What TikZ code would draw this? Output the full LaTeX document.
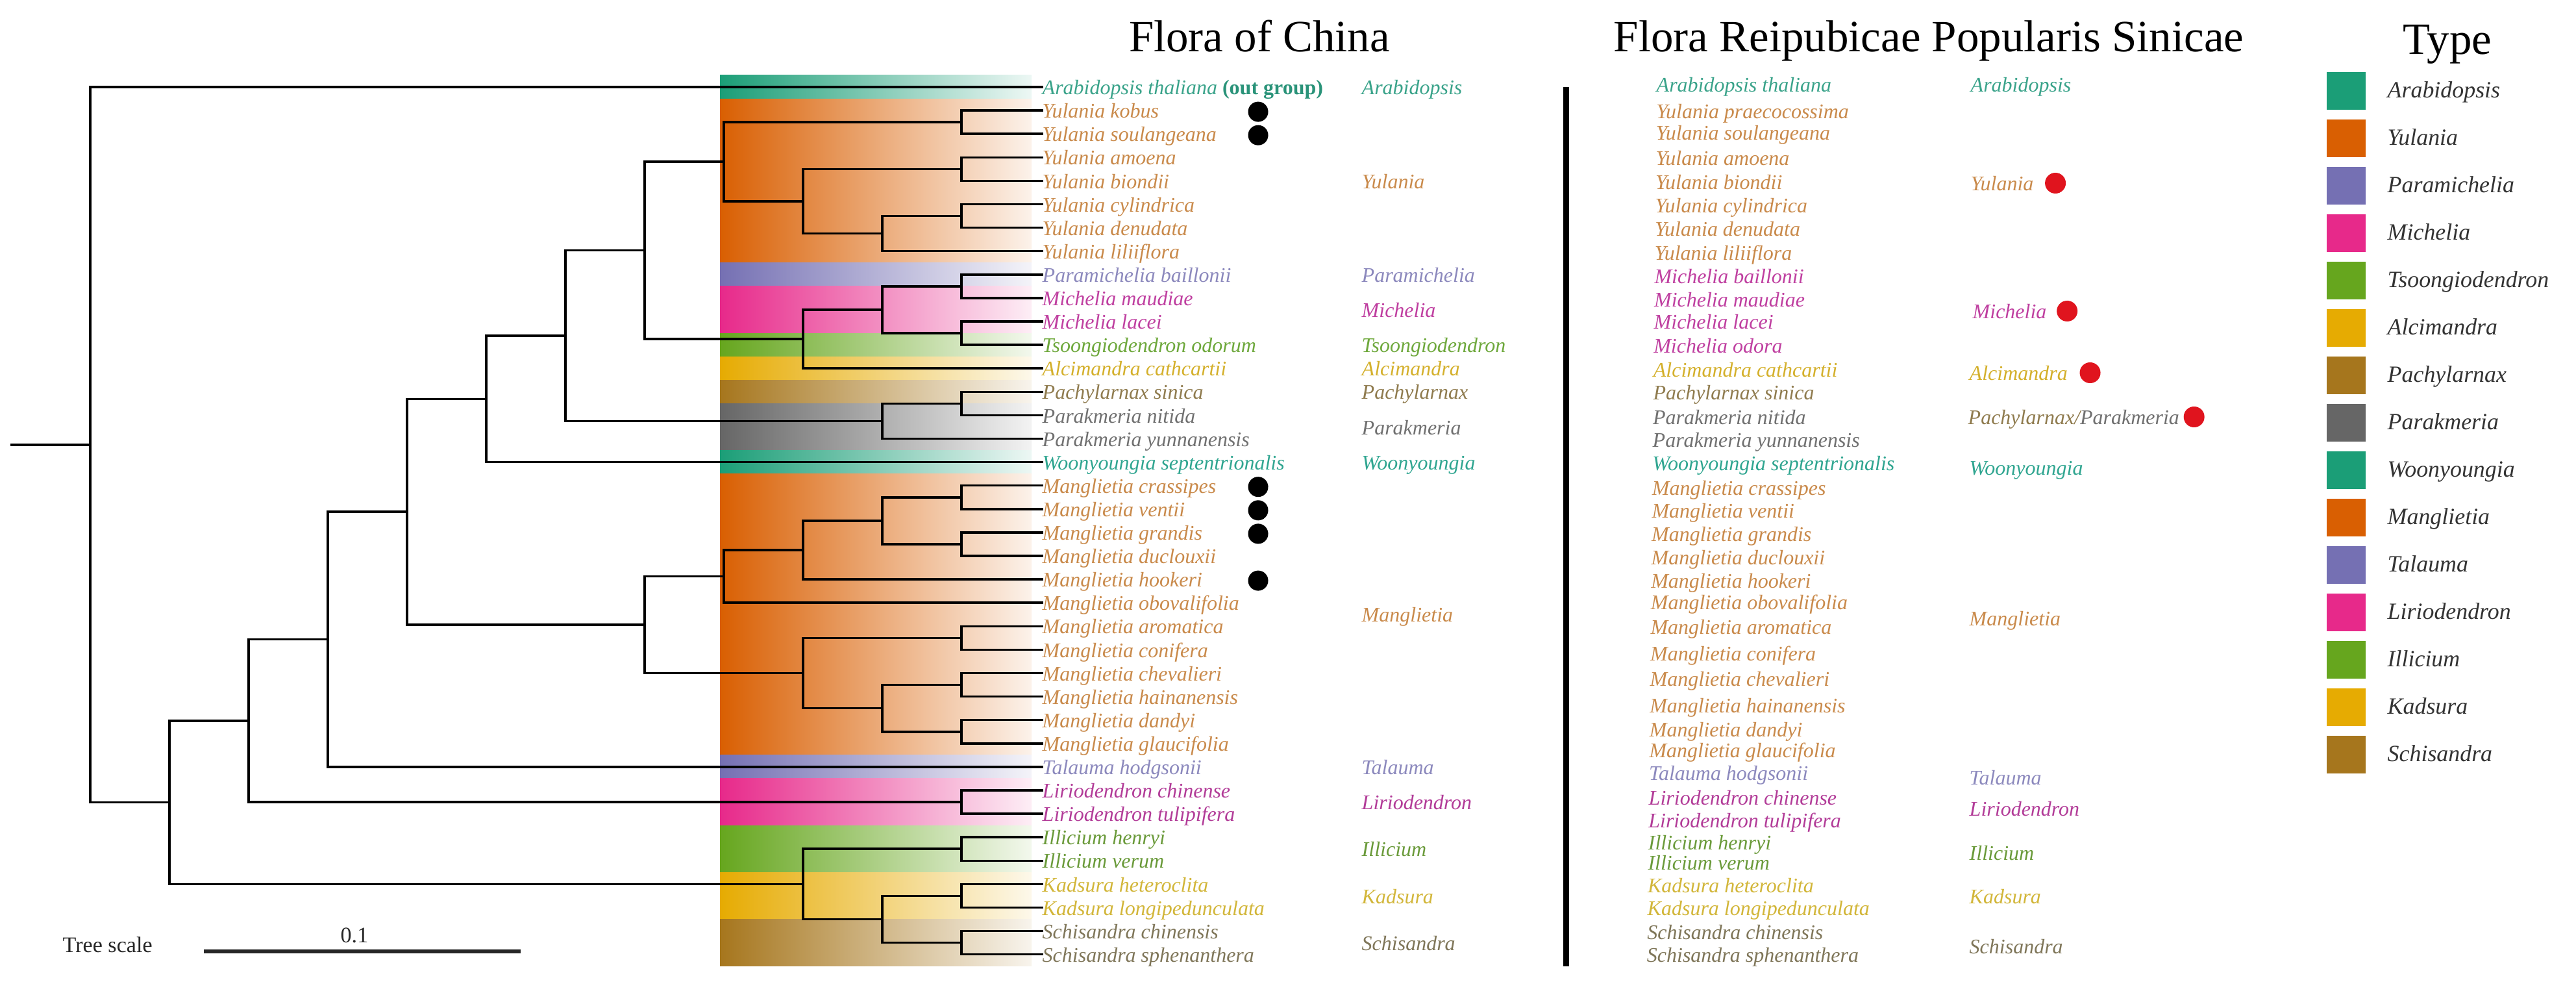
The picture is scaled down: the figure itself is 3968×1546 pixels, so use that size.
\documentclass[tikz,border=0pt]{standalone}
\usepackage{fontspec}
\setmainfont{Liberation Serif}
\usetikzlibrary{calc}
% group colours (Dark2)
\definecolor{cArab}{HTML}{1B9E77}
\definecolor{cYul}{HTML}{D95F02}
\definecolor{cPara}{HTML}{7570B3}
\definecolor{cMich}{HTML}{E7298A}
\definecolor{cTsoo}{HTML}{66A61E}
\definecolor{cAlc}{HTML}{E6AB02}
\definecolor{cPach}{HTML}{A6761D}
\definecolor{cPark}{HTML}{666666}
% text colours
\definecolor{tArab}{HTML}{3AA38A}
\definecolor{tArabD}{HTML}{2A9379}
\definecolor{tYul}{HTML}{C98A4B}
\definecolor{tPara}{HTML}{8C89BD}
\definecolor{tMich}{HTML}{BF3FA0}
\definecolor{tTsoo}{HTML}{6EA83C}
\definecolor{tAlc}{HTML}{D4B02C}
\definecolor{tPach}{HTML}{8F7B4E}
\definecolor{tPark}{HTML}{707070}
\definecolor{tWoon}{HTML}{2FA590}
\definecolor{tLir}{HTML}{B23C98}
\definecolor{tIll}{HTML}{6A9A3A}
\definecolor{tKad}{HTML}{D2B63A}
\definecolor{tSch}{HTML}{7F7659}
\definecolor{reddot}{HTML}{E0141E}
\newcommand{\lfs}{\fontsize{9.1pt}{10.5pt}\selectfont}
\newcommand{\hfs}{\fontsize{19.6pt}{22pt}\selectfont}
\newcommand{\gfs}{\fontsize{10.2pt}{12pt}\selectfont}
\newcommand{\sfsz}{\fontsize{9.7pt}{11pt}\selectfont}
\begin{document}
\begin{tikzpicture}[x=0.01cm,y=-0.01cm,
  br/.style={line width=1pt,line cap=rect},
  lab/.style={anchor=west,inner sep=0pt,text height=0.66em,text depth=0pt,font=\lfs\itshape},
  head/.style={anchor=base,inner sep=0pt,font=\hfs},
  bdot/.style={circle,fill=black,inner sep=0pt,minimum size=0.31cm},
  rdot/.style={circle,fill=reddot,inner sep=0pt,minimum size=0.32cm},
  sqbox/.style={anchor=north west,inner sep=0pt,minimum width=0.6cm,minimum height=0.58cm},
  leg/.style={anchor=west,inner sep=0pt,text height=0.66em,text depth=0pt,font=\gfs\itshape,text=black!80}]
\useasboundingbox (0,0) rectangle (3968,1546);

% ---------- coloured bands ----------
\foreach \ta/\tb/\c in {1/1/cArab,2/8/cYul,9/9/cPara,10/11/cMich,12/12/cTsoo,13/13/cAlc,14/14/cPach,15/16/cPark,17/17/cArab,18/29/cYul,30/30/cPara,31/32/cMich,33/34/cTsoo,35/36/cAlc,37/38/cPach}
  \shade[left color=\c,right color=\c!8] (1109,{134+36.1*(\ta-1)-18.05}) rectangle (1589,{134+36.1*(\tb-1)+18.05});

% ---------- headings ----------
\node[head] (h1) at (1940,80) {Flora of China};
\node[head] (h2) at (2971,80) {Flora Reipubicae Popularis Sinicae};
\node[head] (h3) at (3770,84) {Type};

% ---------- leaves ----------
\node[lab,text=tArab] (l1) at (1605,134) {Arabidopsis thaliana {\upshape\bfseries\color{tArabD}(out group)}};
\foreach \i/\nm/\cl in {2/Yulania kobus/tYul,3/Yulania soulangeana/tYul,4/Yulania amoena/tYul,5/Yulania biondii/tYul,6/Yulania cylindrica/tYul,7/Yulania denudata/tYul,8/Yulania liliiflora/tYul,9/Paramichelia baillonii/tPara,10/Michelia maudiae/tMich,11/Michelia lacei/tMich,12/Tsoongiodendron odorum/tTsoo,13/Alcimandra cathcartii/tAlc,14/Pachylarnax sinica/tPach,15/Parakmeria nitida/tPark,16/Parakmeria yunnanensis/tPark,17/Woonyoungia septentrionalis/tWoon,18/Manglietia crassipes/tYul,19/Manglietia ventii/tYul,20/Manglietia grandis/tYul,21/Manglietia duclouxii/tYul,22/Manglietia hookeri/tYul,23/Manglietia obovalifolia/tYul,24/Manglietia aromatica/tYul,25/Manglietia conifera/tYul,26/Manglietia chevalieri/tYul,27/Manglietia hainanensis/tYul,28/Manglietia dandyi/tYul,29/Manglietia glaucifolia/tYul,30/Talauma hodgsonii/tPara,31/Liriodendron chinense/tLir,32/Liriodendron tulipifera/tLir,33/Illicium henryi/tIll,34/Illicium verum/tIll,35/Kadsura heteroclita/tKad,36/Kadsura longipedunculata/tKad,37/Schisandra chinensis/tSch,38/Schisandra sphenanthera/tSch}
  \node[lab,text=\cl] (l\i) at (1605,{134+36.1*(\i-1)}) {\nm};

% ---------- internal nodes ----------
\coordinate (stub) at (18,684.8);
\coordinate (root) at (139,684.8);
\coordinate (n1) at (261,1235.6);
\coordinate (n2) at (383,1109.8);
\coordinate (n3) at (1237,1361.4);
\coordinate (n4) at (505,984.54);
\coordinate (n5) at (627,788.17);
\coordinate (n6) at (749,614.3);
\coordinate (n7) at (993,962.04);
\coordinate (n8) at (871,517.0);
\coordinate (n9) at (993,385.57);
\coordinate (n10) at (1359,648.425);
\coordinate (n11) at (1115,249.07);
\coordinate (n12) at (1237,522.075);
\coordinate (n13) at (1481,188.15);
\coordinate (n14) at (1237,309.99);
\coordinate (n15) at (1481,260.35);
\coordinate (n16) at (1359,359.625);
\coordinate (n17) at (1481,332.55);
\coordinate (n18) at (1359,476.95);
\coordinate (n19) at (1481,440.85);
\coordinate (n20) at (1481,513.05);
\coordinate (n21) at (1481,621.35);
\coordinate (n22) at (1115,887.59);
\coordinate (n23) at (1237,1036.5);
\coordinate (n24) at (1237,846.975);
\coordinate (n25) at (1359,801.85);
\coordinate (n26) at (1481,765.75);
\coordinate (n27) at (1481,837.95);
\coordinate (n28) at (1481,982.35);
\coordinate (n29) at (1359,1090.65);
\coordinate (n30) at (1481,1054.55);
\coordinate (n31) at (1481,1126.75);
\coordinate (nlir) at (1481,1235.05);
\coordinate (n32) at (1481,1307.25);
\coordinate (n33) at (1359,1415.55);
\coordinate (n34) at (1481,1379.45);
\coordinate (n35) at (1481,1451.65);

% ---------- branches ----------
\draw[br] (stub) -- (root);
\foreach \p/\c in {root/l1.west,root/n1,n1/n2,n1/n3,n2/n4,n2/nlir,n4/n5,n4/l30.west,n5/n6,n5/n7,n6/n8,n6/l17.west,n8/n9,n8/n10,n9/n11,n9/n12,n11/n13,n11/n14,n13/l2.west,n13/l3.west,n14/n15,n14/n16,n15/l4.west,n15/l5.west,n16/n17,n16/l8.west,n17/l6.west,n17/l7.west,n12/n18,n12/l13.west,n18/n19,n18/n20,n19/l9.west,n19/l10.west,n20/l11.west,n20/l12.west,n10/n21,n10/l16.west,n21/l14.west,n21/l15.west,n7/n22,n7/n23,n22/n24,n22/l23.west,n24/n25,n24/l22.west,n25/n26,n25/n27,n26/l18.west,n26/l19.west,n27/l20.west,n27/l21.west,n23/n28,n23/n29,n28/l24.west,n28/l25.west,n29/n30,n29/n31,n30/l26.west,n30/l27.west,n31/l28.west,n31/l29.west,nlir/l31.west,nlir/l32.west,n3/n32,n3/n33,n32/l33.west,n32/l34.west,n33/n34,n33/n35,n34/l35.west,n34/l36.west,n35/l37.west,n35/l38.west}
  \draw[br] (\p) |- (\c);

% ---------- black dots ----------
\foreach \i in {2,3,18,19,20,22}
  \node[bdot] (bd\i) at (1938,{134+36.1*(\i-1)+2}) {};

% ---------- Flora of China genus column ----------
\node[lab,text=tArab] (f1) at (2097,134) {Arabidopsis};
\node[lab,text=tYul] (f2) at (2097,278.4) {Yulania};
\node[lab,text=tPara] (f3) at (2097,422.8) {Paramichelia};
\node[lab,text=tMich] (f4) at (2097,477) {Michelia};
\node[lab,text=tTsoo] (f5) at (2097,531.1) {Tsoongiodendron};
\node[lab,text=tAlc] (f6) at (2097,567.2) {Alcimandra};
\node[lab,text=tPach] (f7) at (2097,603.3) {Pachylarnax};
\node[lab,text=tPark] (f8) at (2097,658) {Parakmeria};
\node[lab,text=tWoon] (f9) at (2097,711.6) {Woonyoungia};
\node[lab,text=tYul] (f10) at (2097,946.3) {Manglietia};
\node[lab,text=tPara] (f11) at (2097,1180.9) {Talauma};
\node[lab,text=tLir] (f12) at (2097,1235.05) {Liriodendron};
\node[lab,text=tIll] (f13) at (2097,1307.25) {Illicium};
\node[lab,text=tKad] (f14) at (2097,1379.45) {Kadsura};
\node[lab,text=tSch] (f15) at (2097,1451.65) {Schisandra};

% ---------- separator ----------
\coordinate (vt) at (2412,134);
\coordinate (vb) at (2412,1488);
\draw[line width=0.09cm] (vt) -- (vb);

% ---------- Flora Reipublicae species ----------
\foreach \i/\yy/\nm/\cl in {1/130/Arabidopsis thaliana/tArab,2/171/Yulania praecocossima/tYul,3/204/Yulania soulangeana/tYul,4/243/Yulania amoena/tYul,5/280/Yulania biondii/tYul,6/316/Yulania cylindrica/tYul,7/352/Yulania denudata/tYul,8/389/Yulania liliiflora/tYul,9/425/Michelia baillonii/tMich,10/461/Michelia maudiae/tMich,11/495/Michelia lacei/tMich,12/532/Michelia odora/tMich,13/569/Alcimandra cathcartii/tAlc,14/604/Pachylarnax sinica/tPach,15/642/Parakmeria nitida/tPark,16/677/Parakmeria yunnanensis/tPark,17/713/Woonyoungia septentrionalis/tWoon,18/751/Manglietia crassipes/tYul,19/786/Manglietia ventii/tYul,20/822/Manglietia grandis/tYul,21/858/Manglietia duclouxii/tYul,22/894/Manglietia hookeri/tYul,23/927/Manglietia obovalifolia/tYul,24/965/Manglietia aromatica/tYul,25/1006/Manglietia conifera/tYul,26/1045/Manglietia chevalieri/tYul,27/1086/Manglietia hainanensis/tYul,28/1123/Manglietia dandyi/tYul,29/1155/Manglietia glaucifolia/tYul,30/1190/Talauma hodgsonii/tPara,31/1228/Liriodendron chinense/tLir,32/1263/Liriodendron tulipifera/tLir,33/1297/Illicium henryi/tIll,34/1328/Illicium verum/tIll,35/1363/Kadsura heteroclita/tKad,36/1398/Kadsura longipedunculata/tKad,37/1435/Schisandra chinensis/tSch,38/1470/Schisandra sphenanthera/tSch}
  \node[lab,text=\cl] (r\i) at ({2551-0.4*(\i-1)},\yy) {\nm};

% ---------- Flora Reipublicae genus column ----------
\node[lab,text=tArab] (g1) at (3035,130) {Arabidopsis};
\node[lab,text=tYul] (g2) at (3035,282) {Yulania};
\node[lab,text=tMich] (g3) at (3038,479) {Michelia};
\node[lab,text=tAlc] (g4) at (3033,574) {Alcimandra};
\node[lab] (g5) at (3031,642) {{\color{tPach}Pachylarnax/}{\color{tPark}Parakmeria}};
\node[lab,text=tWoon] (g6) at (3033,720) {Woonyoungia};
\node[lab,text=tYul] (g7) at (3033,952) {Manglietia};
\node[lab,text=tPara] (g8) at (3033,1197) {Talauma};
\node[lab,text=tLir] (g9) at (3033,1245) {Liriodendron};
\node[lab,text=tIll] (g10) at (3033,1313) {Illicium};
\node[lab,text=tKad] (g11) at (3033,1380) {Kadsura};
\node[lab,text=tSch] (g12) at (3033,1457) {Schisandra};
\node[rdot] (rd2) at ([xshift=0.33cm]g2.east) {};
\node[rdot] (rd3) at ([xshift=0.31cm]g3.east) {};
\node[rdot] (rd4) at ([xshift=0.34cm]g4.east) {};
\node[rdot] (rd5) at ([xshift=0.22cm]g5.east) {};

% ---------- legend ----------
\foreach \k/\nm/\c in {0/Arabidopsis/cArab,1/Yulania/cYul,2/Paramichelia/cPara,3/Michelia/cMich,4/Tsoongiodendron/cTsoo,5/Alcimandra/cAlc,6/Pachylarnax/cPach,7/Parakmeria/cPark,8/Woonyoungia/cArab,9/Manglietia/cYul,10/Talauma/cPara,11/Liriodendron/cMich,12/Illicium/cTsoo,13/Kadsura/cAlc,14/Schisandra/cPach}{
  \node[sqbox,fill=\c] (sq\k) at (3583,{110+73*\k}) {};
  \node[leg] (lg\k) at (3677,{139+73*\k}) {\nm};
}

% ---------- tree scale ----------
\node[anchor=west,inner sep=0pt,text height=0.66em,text depth=0pt,font=\sfsz,text=black!85] (ts) at (96,1455) {Tree scale};
\coordinate (sb1) at (314,1465);
\coordinate (sb2) at (802,1465);
\draw[line width=0.06cm,black!85] (sb1) -- (sb2);
\node[inner sep=0pt,text height=0.66em,text depth=0pt,font=\sfsz,text=black!85] (ts01) at (546,1440) {0.1};
\end{tikzpicture}
\end{document}
